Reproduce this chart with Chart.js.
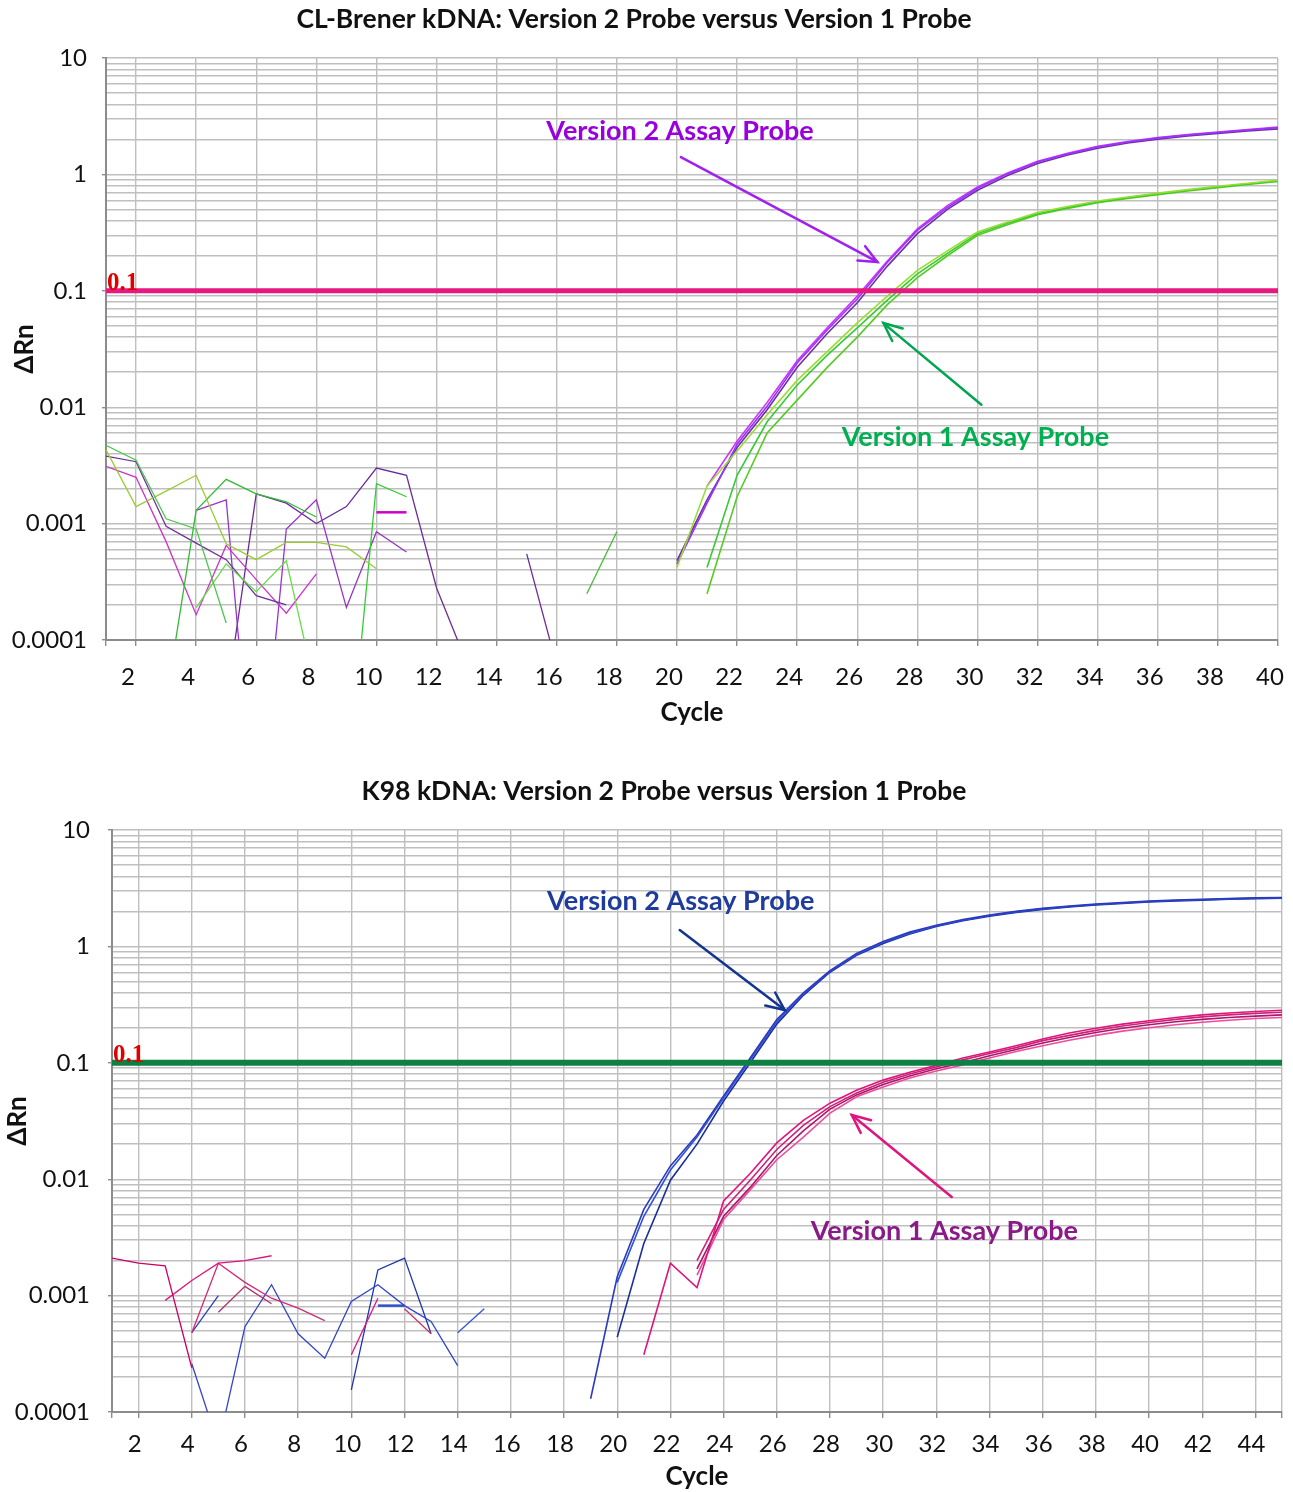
<!DOCTYPE html>
<html>
<head>
<meta charset="utf-8">
<title>kDNA probe comparison</title>
<script src="https://cdn.jsdelivr.net/npm/chart.js@4.4.1/dist/chart.umd.min.js"></script>
<style>
  html, body { margin: 0; padding: 0; background: #fff; }
  #wrap { position: relative; width: 1293px; height: 1492px; }
  canvas { position: absolute; left: 0; }
  #topChart { top: 0; }
  #bottomChart { top: 760px; }
</style>
</head>
<body>
<div id="wrap">
  <canvas id="topChart" width="1293" height="745"></canvas>
  <canvas id="bottomChart" width="1293" height="732"></canvas>
</div>
<script>
// ---------- shared axis labels ----------
const yTickValues = [0.0001, 0.001, 0.01, 0.1, 1, 10];
const yTickLabels = ['0.0001', '0.001', '0.01', '0.1', '1', '10'];
const threshold = 0.1;

// ---------- CL-Brener kDNA (top) ----------
const topCycleLabels = [2, 4, 6, 8, 10, 12, 14, 16, 18, 20, 22, 24, 26, 28, 30, 32, 34, 36, 38, 40];
const topCycleTicks = [1, 2, 4, 6, 8, 10, 12, 14, 16, 18, 20, 22, 24, 26, 28, 30, 32, 34, 36, 38, 40];
const topEarlyCycles = [1, 2, 3, 4, 5, 6, 7, 8, 9, 10, 11, 12, 13, 14, 15, 16, 17, 18];
const topLateCycles = [20, 21, 22, 23, 24, 25, 26, 27, 28, 29, 30, 31, 32, 33, 34, 35, 36, 37, 38, 39, 40];

// baseline noise, version 2 probe (purples)
const clV2EarlyA = [0.0038, 0.0034, 0.00095, 0.00068, 0.00049, 0.00024, 0.00020, null, null, null, null, null, null, null, null, null, null, null];
const clV2EarlyB = [0.0031, 0.0025, 0.0007, 0.000165, 0.00065, 0.00033, 0.00017, 0.00037, null, null, null, null, null, null, null, null, null, null];
const clV2EarlyC = [null, null, null, 0.0013, 0.0016, 0.000002, 0.0009, 0.0016, 0.00019, 0.00085, 0.00057, null, null, null, null, null, null, null];
const clV2EarlyD = [null, null, null, null, 0.00003, 0.0018, 0.0015, 0.001, 0.0014, 0.003, 0.0026, 0.00028, 0.000064, null, 0.00055, 0.00006, null, null];
const clV2EarlyE = [null, null, null, null, null, null, null, null, null, 0.00125, 0.00125, null, null, null, null, null, null, null];
// baseline noise, version 1 probe (greens)
const clV1EarlyA = [0.0047, 0.0035, 0.0011, 0.0009, 0.00014, null, null, null, null, null, null, null, null, null, null, null, null, null];
const clV1EarlyB = [0.0043, 0.0014, 0.0019, 0.0026, 0.00067, 0.00049, 0.00069, 0.00069, 0.00063, 0.00041, null, null, null, null, null, null, null, null];
const clV1EarlyC = [null, null, 0.00003, 0.0013, 0.0024, 0.0018, 0.00154, 0.00114, null, null, null, null, null, null, null, null, null, null];
const clV1EarlyD = [null, null, null, 0.00019, 0.00045, 0.00026, 0.00048, 0.000035, null, null, null, null, null, null, null, null, null, null];
const clV1EarlyE = [null, null, null, null, null, null, null, null, 0.0000045, 0.0022, 0.0017, null, null, null, null, null, null, null];
const clV1EarlyF = [null, null, null, null, null, null, null, null, null, null, null, null, null, null, null, null, 0.00025, 0.00085];

// amplification curves
const clV2LateA = [0.00045, 0.0015, 0.0048, 0.0102, 0.024, 0.046, 0.085, 0.175, 0.33, 0.52, 0.76, 1.01, 1.28, 1.50, 1.72, 1.90, 2.05, 2.18, 2.29, 2.41, 2.52];
const clV2LateB = [0.00048, 0.0016, 0.0045, 0.0095, 0.022, 0.043, 0.079, 0.163, 0.31, 0.50, 0.73, 0.98, 1.24, 1.47, 1.68, 1.86, 2.01, 2.14, 2.25, 2.36, 2.46];
const clV2LateC = [null, 0.0021, 0.0051, 0.011, 0.025, 0.048, 0.09, 0.18, 0.34, 0.54, 0.78, 1.03, 1.30, 1.52, 1.74, 1.92, 2.07, 2.20, 2.31, 2.43, 2.55];
const clV1LateA = [0.00042, 0.0021, 0.0042, 0.0086, 0.017, 0.030, 0.053, 0.090, 0.15, 0.22, 0.32, 0.39, 0.47, 0.53, 0.59, 0.64, 0.69, 0.74, 0.79, 0.84, 0.89];
const clV1LateB = [null, 0.00042, 0.0026, 0.0075, 0.0155, 0.028, 0.048, 0.083, 0.14, 0.21, 0.31, 0.38, 0.46, 0.52, 0.58, 0.63, 0.68, 0.73, 0.78, 0.83, 0.88];
const clV1LateC = [null, 0.00025, 0.0017, 0.006, 0.0115, 0.022, 0.040, 0.076, 0.13, 0.20, 0.30, 0.37, 0.45, 0.51, 0.57, 0.62, 0.67, 0.72, 0.77, 0.82, 0.87];

// ---------- K98 kDNA (bottom) ----------
const k98CycleLabels = [2, 4, 6, 8, 10, 12, 14, 16, 18, 20, 22, 24, 26, 28, 30, 32, 34, 36, 38, 40, 42, 44];
const k98CycleTicks = [1, 2, 4, 6, 8, 10, 12, 14, 16, 18, 20, 22, 24, 26, 28, 30, 32, 34, 36, 38, 40, 42, 44, 45];
const k98EarlyCycles = [1, 2, 3, 4, 5, 6, 7, 8, 9, 10, 11, 12, 13, 14, 15];
const k98LateCycles = [19, 20, 21, 22, 23, 24, 25, 26, 27, 28, 29, 30, 31, 32, 33, 34, 35, 36, 37, 38, 39, 40, 41, 42, 43, 44, 45];

// baseline noise, version 1 probe (pinks)
const k98V1EarlyA = [0.0021, 0.0019, 0.0018, 0.00024, null, null, null, null, null, null, null, null, null, null, null];
const k98V1EarlyB = [null, null, 0.00091, 0.00135, 0.0019, 0.002, 0.0022, null, null, null, null, null, null, null, null];
const k98V1EarlyC = [null, null, null, 0.00048, 0.0019, 0.0013, 0.00095, 0.00078, 0.00061, null, null, null, null, null, null];
const k98V1EarlyD = [null, null, null, null, 0.00072, 0.0012, 0.00085, null, null, null, null, null, null, null, null];
const k98V1EarlyE = [null, null, null, null, null, null, null, null, null, 0.00031, 0.00095, null, null, null, null];
const k98V1EarlyF = [null, null, null, null, null, null, null, null, null, null, null, 0.00077, 0.00047, null, null];
// baseline noise, version 2 probe (blues)
const k98V2EarlyA = [null, null, null, 0.00048, 0.001, null, null, null, null, null, null, null, null, null, null];
const k98V2EarlyB = [null, null, null, 0.00026, 0.000052, 0.00054, 0.00124, 0.00047, 0.00029, 0.00089, 0.00124, 0.00082, 0.0006, 0.00025, null];
const k98V2EarlyC = [null, null, null, null, null, null, null, null, null, 0.000155, 0.00166, 0.0021, 0.00047, null, null];
const k98V2EarlyD = [null, null, null, null, null, null, null, null, null, null, 0.00082, 0.00082, null, null, null];
const k98V2EarlyE = [null, null, null, null, null, null, null, null, null, null, null, null, null, 0.00048, 0.00077];

// amplification curves
const k98V2LateA = [0.00013, 0.00145, 0.0055, 0.013, 0.024, 0.052, 0.11, 0.235, 0.40, 0.62, 0.87, 1.10, 1.33, 1.52, 1.70, 1.86, 2.0, 2.12, 2.22, 2.31, 2.38, 2.45, 2.50, 2.54, 2.58, 2.61, 2.63];
const k98V2LateB = [null, 0.0013, 0.0048, 0.012, 0.023, 0.050, 0.106, 0.225, 0.39, 0.61, 0.85, 1.08, 1.30, 1.50, 1.68, 1.84, 1.98, 2.10, 2.20, 2.29, 2.36, 2.43, 2.48, 2.52, 2.56, 2.59, 2.61];
const k98V2LateC = [null, 0.00044, 0.0028, 0.0098, 0.020, 0.047, 0.10, 0.215, 0.38, 0.60, 0.84, 1.06, 1.28, 1.48, 1.66, 1.82, 1.96, 2.08, 2.18, 2.27, 2.34, 2.41, 2.46, 2.50, 2.54, 2.57, 2.59];
const k98V1LateA = [null, null, 0.00031, 0.0019, 0.00117, 0.0065, 0.0112, 0.0205, 0.032, 0.045, 0.058, 0.071, 0.083, 0.095, 0.11, 0.124, 0.14, 0.16, 0.18, 0.198, 0.215, 0.23, 0.245, 0.258, 0.268, 0.276, 0.283];
const k98V1LateB = [null, null, null, null, 0.0020, 0.0055, 0.0098, 0.018, 0.029, 0.042, 0.055, 0.068, 0.080, 0.092, 0.106, 0.12, 0.135, 0.155, 0.172, 0.19, 0.207, 0.222, 0.236, 0.248, 0.258, 0.266, 0.272];
const k98V1LateC = [null, null, null, null, 0.0017, 0.0048, 0.0085, 0.016, 0.026, 0.040, 0.053, 0.065, 0.077, 0.089, 0.10, 0.115, 0.13, 0.148, 0.165, 0.182, 0.198, 0.212, 0.225, 0.236, 0.245, 0.252, 0.258];
const k98V1LateD = [null, null, null, null, 0.0015, 0.0045, 0.0081, 0.0147, 0.023, 0.037, 0.051, 0.062, 0.074, 0.085, 0.096, 0.11, 0.125, 0.14, 0.156, 0.172, 0.187, 0.2, 0.212, 0.223, 0.232, 0.24, 0.245];

// ---------- styling ----------
const FONT = 'Lato, "DejaVu Sans", sans-serif';
const GRID = '#bfbfbf';
const AXIS = '#8c8c8c';

function points(cycles, values) {
  return cycles.map((c, i) => ({ x: c, y: values[i] }));
}

function trace(cycles, values, color, width) {
  return {
    data: points(cycles, values),
    borderColor: color,
    borderWidth: width,
    pointRadius: 0,
    fill: false,
    tension: 0,
    spanGaps: false,
    order: 1
  };
}

function thresholdTrace(ticks, color, width) {
  return {
    data: [{ x: ticks[0], y: threshold }, { x: ticks[ticks.length - 1], y: threshold }],
    borderColor: color,
    borderWidth: width,
    pointRadius: 0,
    order: 0
  };
}

function isDecade(v) {
  const l = Math.log10(v);
  return Math.abs(l - Math.round(l)) < 1e-6;
}

function yLabel(v) {
  const i = yTickValues.findIndex(t => Math.abs(Math.log10(t) - Math.log10(v)) < 1e-6);
  return i >= 0 ? yTickLabels[i] : '';
}

// gridline positions 1..9 x 10^n for the log axis
function logGrid() {
  const out = [];
  for (let e = -4; e <= 0; e++) {
    for (let m = 1; m <= 9; m++) out.push(m * Math.pow(10, e));
  }
  out.push(10);
  return out;
}

function makeOverlay(cfg) {
  return {
    id: 'overlay',
    afterDatasetsDraw(chart) {
      const ctx = chart.ctx;
      const area = chart.chartArea;
      const xs = chart.scales.x, ys = chart.scales.y;
      ctx.save();
      ctx.font = 'bold 25px "Liberation Serif", "DejaVu Serif", serif';
      ctx.fillStyle = '#e00000';
      ctx.textAlign = 'left';
      ctx.textBaseline = 'alphabetic';
      ctx.fillText(String(threshold), area.left + 1, ys.getPixelForValue(threshold) - 1);

      cfg.notes.forEach(n => {
        const x1 = xs.getPixelForValue(n.from[0]), y1 = ys.getPixelForValue(n.from[1]);
        const x2 = xs.getPixelForValue(n.to[0]), y2 = ys.getPixelForValue(n.to[1]);
        ctx.strokeStyle = n.arrowColor;
        ctx.lineWidth = 2.5;
        ctx.lineCap = 'round';
        ctx.beginPath();
        ctx.moveTo(x1, y1);
        ctx.lineTo(x2, y2);
        ctx.stroke();
        const ang = Math.atan2(y2 - y1, x2 - x1);
        const head = 20;
        ctx.beginPath();
        ctx.moveTo(x2 - head * Math.cos(ang - 0.42), y2 - head * Math.sin(ang - 0.42));
        ctx.lineTo(x2, y2);
        ctx.lineTo(x2 - head * Math.cos(ang + 0.42), y2 - head * Math.sin(ang + 0.42));
        ctx.stroke();

        ctx.font = 'bold 27px ' + FONT;
        ctx.fillStyle = n.color;
        ctx.textAlign = 'center';
        ctx.textBaseline = 'middle';
        ctx.fillText(n.text, xs.getPixelForValue(n.at[0]), ys.getPixelForValue(n.at[1]));
      });
      ctx.restore();
    },
    afterDraw(chart) {
      const ctx = chart.ctx;
      ctx.save();
      ctx.font = 'bold 26.5px ' + FONT;
      ctx.fillStyle = '#111';
      ctx.textAlign = 'center';
      ctx.textBaseline = 'middle';
      ctx.fillText(cfg.title, cfg.titleX, cfg.titleY);
      ctx.restore();
    }
  };
}

function buildOptions(s) {
  const yGrid = logGrid();
  return {
    responsive: false,
    animation: false,
    devicePixelRatio: 1,
    layout: { padding: s.padding },
    plugins: { legend: { display: false }, tooltip: { enabled: false } },
    scales: {
      x: {
        type: 'linear',
        min: s.xTicks[0],
        max: s.xTicks[s.xTicks.length - 1],
        afterBuildTicks: a => { a.ticks = s.xTicks.map(v => ({ value: v })); },
        afterFit: a => { a.height = s.xAxisHeight; a.paddingLeft = 0; a.paddingRight = 0; },
        grid: { color: GRID, lineWidth: 1.4, tickLength: 6, tickColor: AXIS },
        border: { color: AXIS, width: 2 },
        ticks: {
          autoSkip: false, maxRotation: 0, minRotation: 0,
          padding: s.xTickPad, labelOffset: s.xLabelOffset,
          color: '#111', font: { family: FONT, size: 24 },
          callback: v => (s.xLabels.includes(v) ? String(v) : '')
        },
        title: {
          display: true, text: 'Cycle', color: '#111',
          font: { family: FONT, size: 26, weight: 'bold' },
          padding: { top: 0, bottom: s.xTitlePad }
        }
      },
      y: {
        type: 'logarithmic',
        min: yTickValues[0],
        max: yTickValues[yTickValues.length - 1],
        afterBuildTicks: a => { a.ticks = yGrid.map(v => ({ value: v })); },
        afterFit: a => { a.width = s.yAxisWidth; },
        grid: {
          color: GRID, lineWidth: 1.4, tickLength: 4,
          tickColor: c => (c.tick && isDecade(c.tick.value) ? AXIS : 'rgba(0,0,0,0)')
        },
        border: { color: AXIS, width: 2 },
        ticks: {
          autoSkip: false, padding: s.yTickPad,
          color: '#111', font: { family: FONT, size: 24 },
          callback: v => yLabel(v)
        },
        title: {
          display: true, text: 'ΔRn', color: '#111',
          font: { family: FONT, size: 26, weight: 'bold' },
          padding: { top: s.yTitlePad, bottom: 0 }
        }
      }
    }
  };
}

// ---------- top chart ----------
new Chart(document.getElementById('topChart'), {
  type: 'line',
  data: {
    datasets: [
      trace(topEarlyCycles, clV1EarlyA, '#4cc94c', 1.3),
      trace(topEarlyCycles, clV1EarlyB, '#99cc33', 1.3),
      trace(topEarlyCycles, clV1EarlyC, '#33bb33', 1.3),
      trace(topEarlyCycles, clV1EarlyD, '#66dd44', 1.3),
      trace(topEarlyCycles, clV1EarlyE, '#33cc33', 1.3),
      trace(topEarlyCycles, clV1EarlyF, '#44bb33', 1.3),
      trace(topEarlyCycles, clV2EarlyA, '#7030a0', 1.3),
      trace(topEarlyCycles, clV2EarlyB, '#cc33cc', 1.3),
      trace(topEarlyCycles, clV2EarlyC, '#9933cc', 1.3),
      trace(topEarlyCycles, clV2EarlyD, '#6a2c9a', 1.3),
      trace(topEarlyCycles, clV2EarlyE, '#cc00cc', 2.5),
      trace(topLateCycles, clV1LateA, '#99dd33', 1.6),
      trace(topLateCycles, clV1LateB, '#33cc33', 1.6),
      trace(topLateCycles, clV1LateC, '#55cc22', 1.6),
      trace(topLateCycles, clV2LateA, '#9933ff', 1.6),
      trace(topLateCycles, clV2LateB, '#7030a0', 1.6),
      trace(topLateCycles, clV2LateC, '#cc33ff', 1.6),
      thresholdTrace(topCycleTicks, '#e6197e', 5)
    ]
  },
  options: buildOptions({
    padding: { top: 58, right: 15, bottom: 0, left: 0 },
    xTicks: topCycleTicks, xLabels: topCycleLabels,
    xAxisHeight: 105, xTickPad: 17, xLabelOffset: -8, xTitlePad: 17,
    yAxisWidth: 106, yTickPad: 15, yTitlePad: 9
  }),
  plugins: [makeOverlay({
    title: 'CL-Brener kDNA: Version 2 Probe versus Version 1 Probe',
    titleX: 634, titleY: 19,
    notes: [
      { text: 'Version 2 Assay Probe', color: '#9900dd', at: [20.1, 2.36], from: [20.13, 1.41], to: [26.67, 0.177], arrowColor: '#a020f0' },
      { text: 'Version 1 Assay Probe', color: '#00b050', at: [29.93, 0.00555], from: [30.13, 0.0105], to: [26.87, 0.0528], arrowColor: '#00a650' }
    ]
  })]
});

// ---------- bottom chart ----------
new Chart(document.getElementById('bottomChart'), {
  type: 'line',
  data: {
    datasets: [
      trace(k98EarlyCycles, k98V1EarlyA, '#cc0066', 1.3),
      trace(k98EarlyCycles, k98V1EarlyB, '#e0147f', 1.3),
      trace(k98EarlyCycles, k98V1EarlyC, '#d02a7a', 1.3),
      trace(k98EarlyCycles, k98V1EarlyD, '#b0306a', 1.3),
      trace(k98EarlyCycles, k98V1EarlyE, '#e0147f', 1.3),
      trace(k98EarlyCycles, k98V1EarlyF, '#cc3366', 1.3),
      trace(k98EarlyCycles, k98V2EarlyA, '#2a3fbf', 1.3),
      trace(k98EarlyCycles, k98V2EarlyB, '#3344cc', 1.3),
      trace(k98EarlyCycles, k98V2EarlyC, '#1f35b0', 1.3),
      trace(k98EarlyCycles, k98V2EarlyD, '#2f4fd0', 2.5),
      trace(k98EarlyCycles, k98V2EarlyE, '#3355cc', 1.3),
      trace(k98LateCycles, k98V1LateA, '#e0147f', 1.6),
      trace(k98LateCycles, k98V1LateB, '#cc2277', 1.6),
      trace(k98LateCycles, k98V1LateC, '#a8196b', 1.6),
      trace(k98LateCycles, k98V1LateD, '#ee4c9e', 1.6),
      trace(k98LateCycles, k98V2LateA, '#2b3bc0', 1.6),
      trace(k98LateCycles, k98V2LateB, '#3050d8', 1.6),
      trace(k98LateCycles, k98V2LateC, '#1a2e9c', 1.6),
      thresholdTrace(k98CycleTicks, '#0e8043', 6)
    ]
  },
  options: buildOptions({
    padding: { top: 70, right: 11, bottom: 0, left: 0 },
    xTicks: k98CycleTicks, xLabels: k98CycleLabels,
    xAxisHeight: 80, xTickPad: 12, xLabelOffset: -4, xTitlePad: 0,
    yAxisWidth: 112, yTickPad: 18, yTitlePad: 2
  }),
  plugins: [makeOverlay({
    title: 'K98 kDNA: Version 2 Probe versus Version 1 Probe',
    titleX: 664, titleY: 31,
    notes: [
      { text: 'Version 2 Assay Probe', color: '#1f3c9c', at: [22.39, 2.45], from: [22.35, 1.38], to: [26.3, 0.284], arrowColor: '#14358f' },
      { text: 'Version 1 Assay Probe', color: '#8b1a89', at: [32.3, 0.00359], from: [32.58, 0.00703], to: [28.82, 0.0356], arrowColor: '#e0147f' }
    ]
  })]
});
</script>
</body>
</html>
